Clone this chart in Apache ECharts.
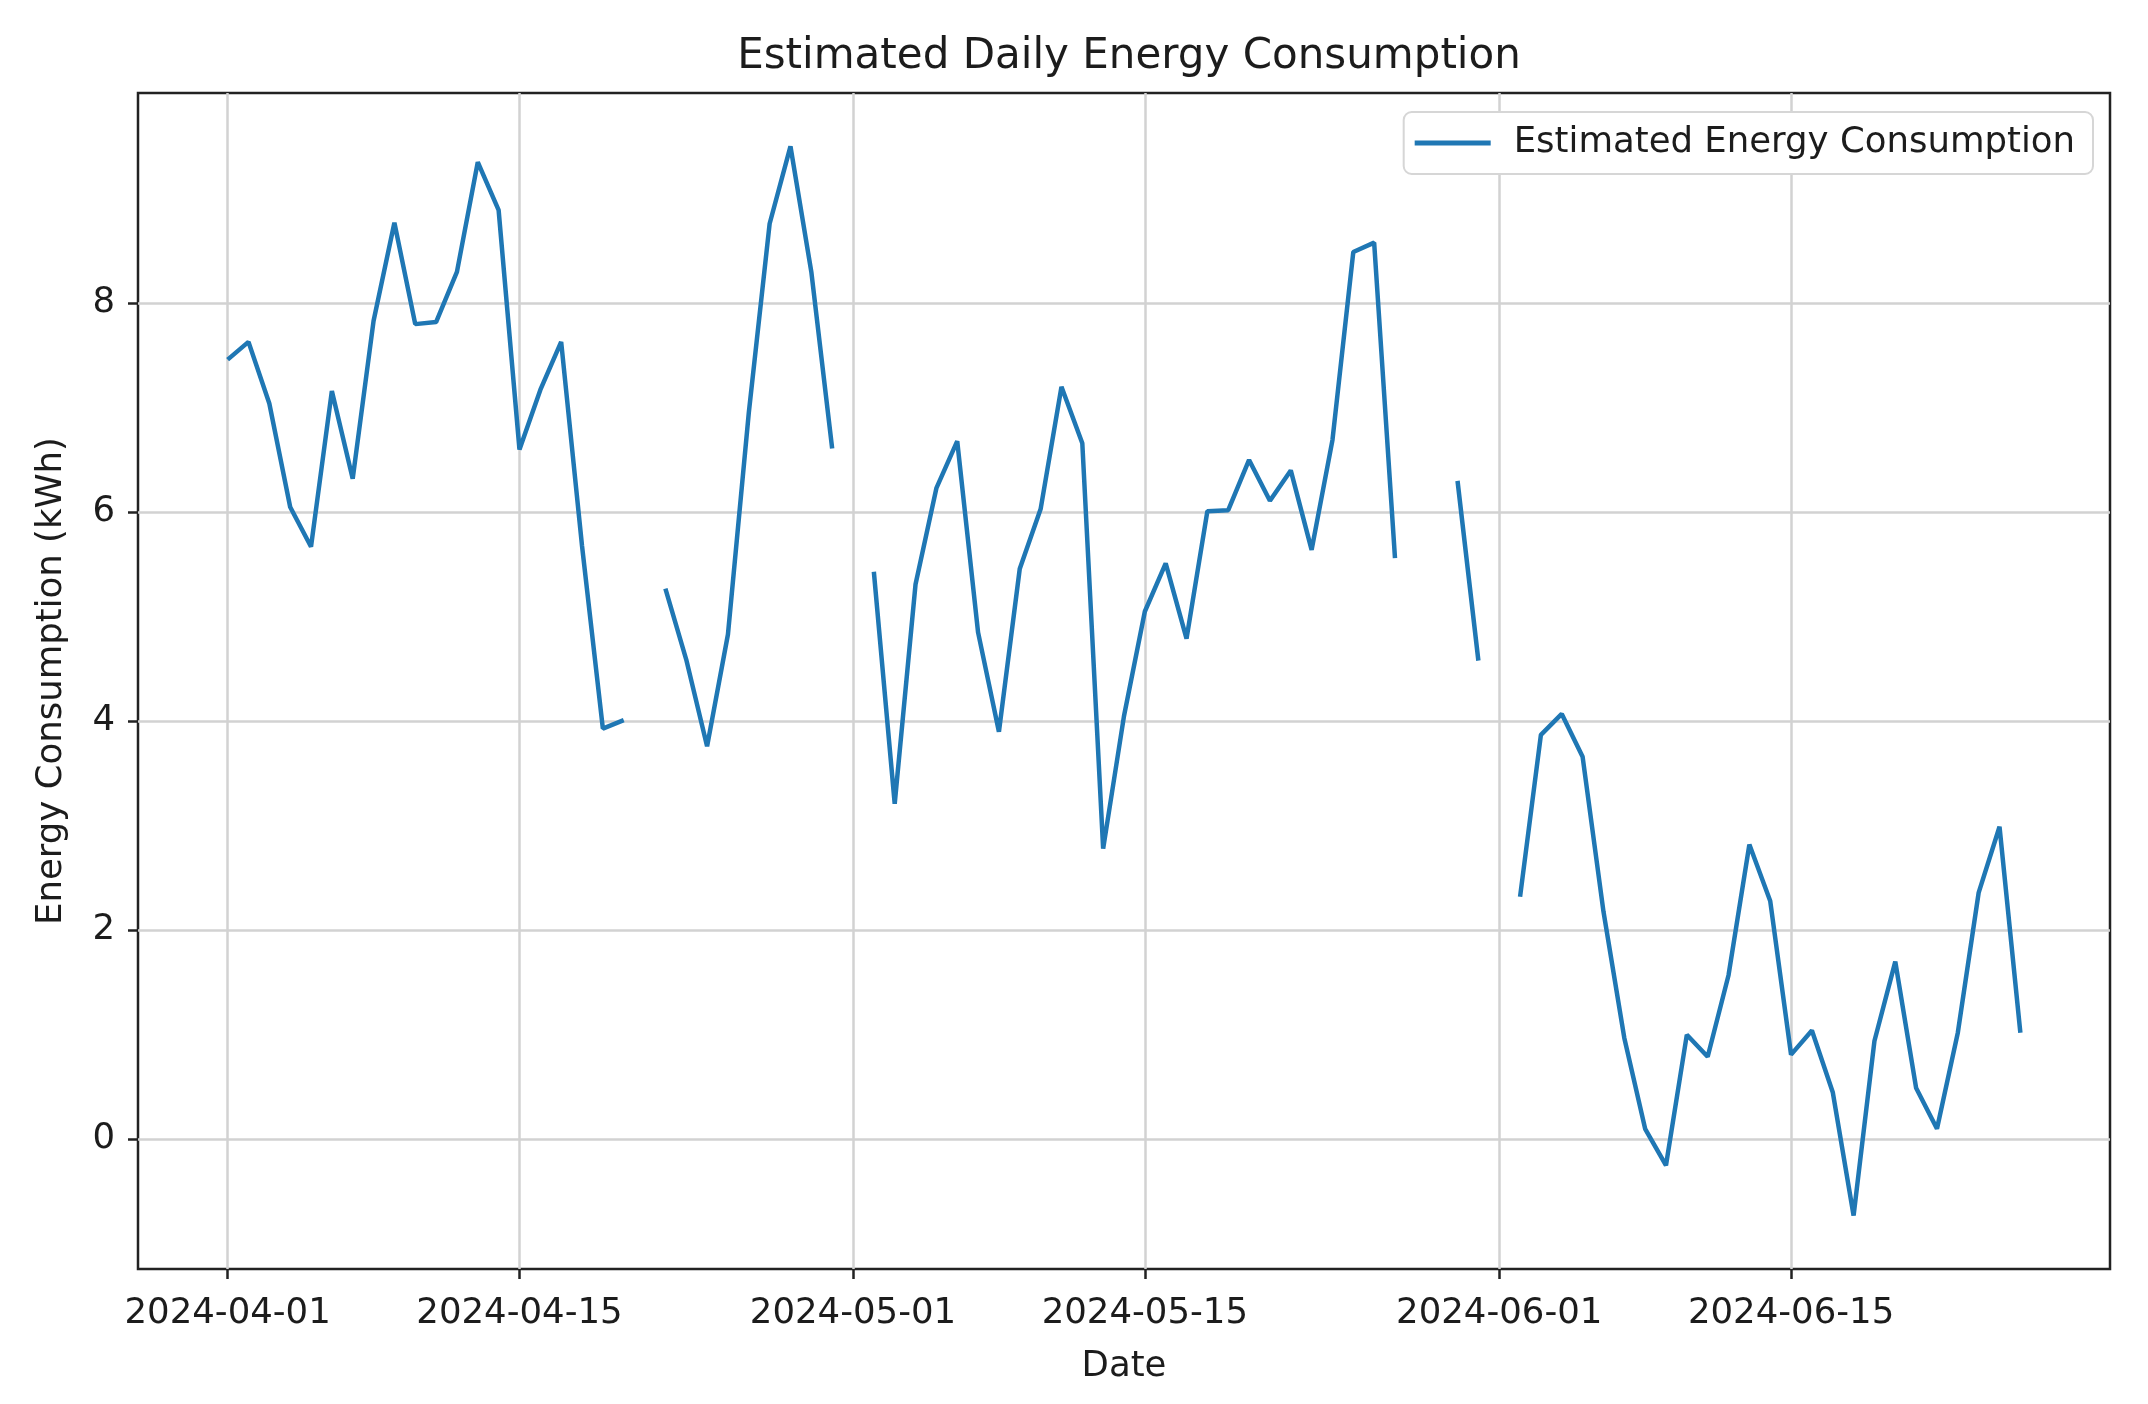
<!DOCTYPE html>
<html>
<head>
<meta charset="utf-8">
<script src="https://cdn.jsdelivr.net/npm/echarts@6/dist/echarts.min.js"></script>
<style>
html,body{margin:0;padding:0;background:#fff;}
#chart{width:2148px;height:1404px;}
</style>
</head>
<body>
<div id="chart"></div>
<script>
// ---- data ----
const dates = [
 '2024-04-01','2024-04-02','2024-04-03','2024-04-04','2024-04-05','2024-04-06','2024-04-07','2024-04-08','2024-04-09','2024-04-10',
 '2024-04-11','2024-04-12','2024-04-13','2024-04-14','2024-04-15','2024-04-16','2024-04-17','2024-04-18','2024-04-19','2024-04-20',
 '2024-04-21','2024-04-22','2024-04-23','2024-04-24','2024-04-25','2024-04-26','2024-04-27','2024-04-28','2024-04-29','2024-04-30',
 '2024-05-01','2024-05-02','2024-05-03','2024-05-04','2024-05-05','2024-05-06','2024-05-07','2024-05-08','2024-05-09','2024-05-10',
 '2024-05-11','2024-05-12','2024-05-13','2024-05-14','2024-05-15','2024-05-16','2024-05-17','2024-05-18','2024-05-19','2024-05-20',
 '2024-05-21','2024-05-22','2024-05-23','2024-05-24','2024-05-25','2024-05-26','2024-05-27','2024-05-28','2024-05-29','2024-05-30',
 '2024-05-31','2024-06-01','2024-06-02','2024-06-03','2024-06-04','2024-06-05','2024-06-06','2024-06-07','2024-06-08','2024-06-09',
 '2024-06-10','2024-06-11','2024-06-12','2024-06-13','2024-06-14','2024-06-15','2024-06-16','2024-06-17','2024-06-18','2024-06-19',
 '2024-06-20','2024-06-21','2024-06-22','2024-06-23','2024-06-24','2024-06-25','2024-06-26'
];
const energy = [
 7.46, 7.63, 7.04, 6.05, 5.67, 7.16, 6.32, 7.83, 8.77, 7.80,
 7.82, 8.30, 9.35, 8.89, 6.60, 7.17, 7.63, 5.68, 3.93, 4.01,
 null, 5.27, 4.59, 3.76, 4.83, 6.95, 8.76, 9.50, 8.30, 6.61,
 null, 5.43, 3.21, 5.31, 6.23, 6.68, 4.85, 3.90, 5.46, 6.03,
 7.20, 6.66, 2.78, 4.05, 5.05, 5.51, 4.79, 6.01, 6.02, 6.50,
 6.11, 6.40, 5.64, 6.69, 8.49, 8.58, 5.56, null, null, 6.30,
 4.58, null, 2.32, 3.87, 4.07, 3.66, 2.18, 0.97, 0.10, -0.25,
 1.00, 0.79, 1.57, 2.82, 2.28, 0.81, 1.04, 0.45, -0.73, 0.94,
 1.70, 0.49, 0.10, 1.02, 2.36, 2.99, 1.02
];
const xTickLabels = ['2024-04-01','2024-04-15','2024-05-01','2024-05-15','2024-06-01','2024-06-15'];
const yTickValues = [0, 2, 4, 6, 8];
const seriesName = 'Estimated Energy Consumption';
const titleText = 'Estimated Daily Energy Consumption';
const xName = 'Date';
const yName = 'Energy Consumption (kWh)';

// ---- helpers ----
function ts(s){ const p = s.split('-').map(Number); return new Date(p[0], p[1]-1, p[2]).getTime(); }
function fmt(v){ const d = new Date(Math.round(v)); const m = d.getMonth()+1, dd = d.getDate();
  return d.getFullYear() + '-' + (m<10?'0':'') + m + '-' + (dd<10?'0':'') + dd; }

const xs = dates.map(ts);
const xMin0 = xs[0], xMax0 = xs[xs.length-1];
const xPad = (xMax0 - xMin0) * 0.05;
const vals = energy.filter(v => v !== null);
const yMin0 = Math.min.apply(null, vals), yMax0 = Math.max.apply(null, vals);
const yPad = (yMax0 - yMin0) * 0.05;
const xTicks = xTickLabels.map(ts);

const FONT = 'DejaVu Sans';
const TXT = '#1c1c1c';
const LINE = '#1f77b4';
const FS = 35.5;
const gridLine = { show: true, lineStyle: { color: '#d2d2d2', width: 2.5 } };

const chart = echarts.init(document.getElementById('chart'), null, { renderer: 'canvas' });
chart.setOption({
  animation: false,
  backgroundColor: '#ffffff',
  textStyle: { fontFamily: FONT },
  title: {
    text: titleText,
    left: 1124, textAlign: 'center',
    top: 31,
    textStyle: { fontFamily: FONT, fontSize: 42, fontWeight: 'normal', color: TXT }
  },
  legend: {
    show: true,
    right: 55, top: 112,
    backgroundColor: '#ffffff',
    borderColor: '#d6d6d6', borderWidth: 2, borderRadius: 8,
    padding: [13, 18, 13, 11],
    itemWidth: 76, itemHeight: 5,
    textStyle: { fontFamily: FONT, fontSize: FS, color: TXT, padding: [0, 0, 0, 18] },
    data: [{ name: seriesName, icon: 'rect', itemStyle: { color: LINE } }]
  },
  grid: {
    left: 138, right: 38, top: 93, bottom: 135,
    show: true, borderColor: '#222', borderWidth: 2.5, backgroundColor: '#fff'
  },
  xAxis: {
    type: 'value',
    min: xMin0 - xPad, max: xMax0 + xPad,
    name: xName, nameLocation: 'middle', nameGap: 80,
    nameTextStyle: { fontFamily: FONT, fontSize: FS, color: TXT },
    axisLine: { show: false, onZero: false },
    axisTick: { show: true, customValues: xTicks, length: 10, lineStyle: { color: '#222', width: 2.5 } },
    axisLabel: { show: true, customValues: xTicks, formatter: v => fmt(v), margin: 27,
      fontFamily: FONT, fontSize: FS, color: TXT },
    splitLine: gridLine
  },
  yAxis: {
    type: 'value',
    min: yMin0 - yPad, max: yMax0 + yPad,
    name: yName, nameLocation: 'middle', nameGap: 68, nameRotate: 90,
    nameTextStyle: { fontFamily: FONT, fontSize: FS, color: TXT },
    axisLine: { show: false, onZero: false },
    axisTick: { show: true, customValues: yTickValues, length: 10, lineStyle: { color: '#222', width: 2.5 } },
    axisLabel: { show: true, customValues: yTickValues, formatter: v => String(Math.round(v)), margin: 23,
      fontFamily: FONT, fontSize: FS, color: TXT },
    splitLine: gridLine
  },
  series: [{
    name: seriesName,
    type: 'line',
    data: xs.map((x, i) => [x, energy[i]]),
    showSymbol: false,
    symbol: 'none',
    connectNulls: false,
    lineStyle: { color: LINE, width: 4.5 },
    itemStyle: { color: LINE }
  }]
});
</script>
</body>
</html>
